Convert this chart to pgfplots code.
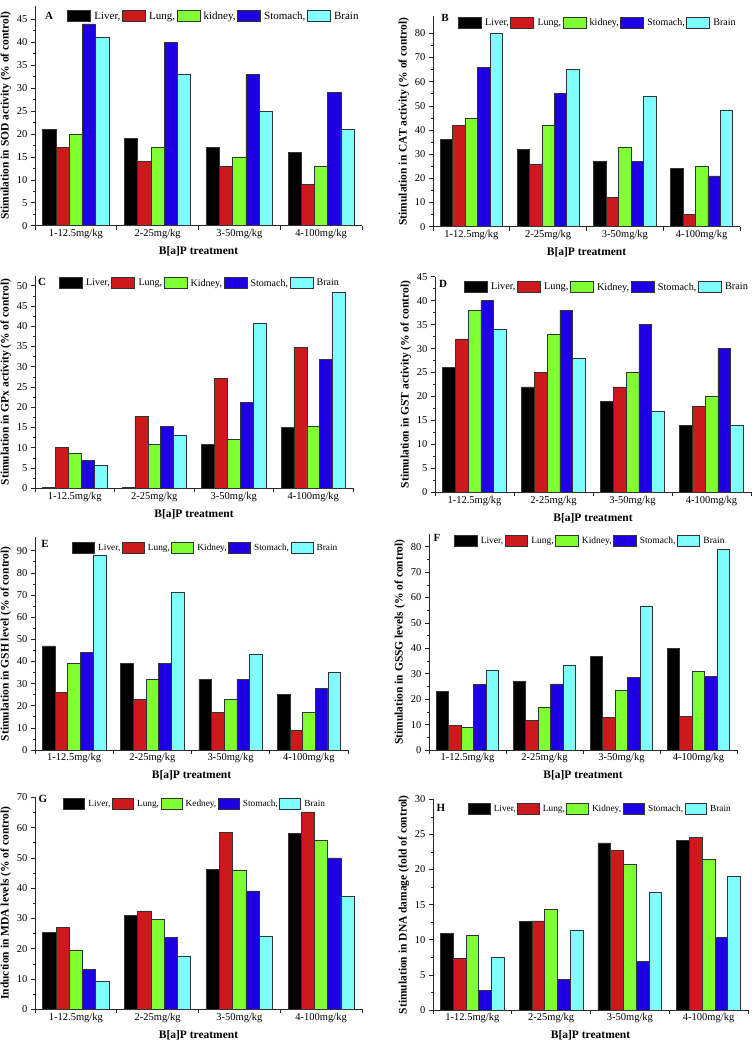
\documentclass[border=0pt]{standalone}
\usepackage{pgfplots}
\pgfplotsset{compat=1.18}
\usepackage{fontspec}
\setmainfont{Liberation Serif}
\definecolor{cLiver}{RGB}{0,0,0}
\definecolor{cLung}{RGB}{205,25,28}
\definecolor{cKid}{RGB}{128,255,50}
\definecolor{cSto}{RGB}{30,0,228}
\definecolor{cBra}{RGB}{128,255,255}
\def\legw{23pt}
\pgfplotsset{
  panel/.style={
    scale only axis, anchor=south west,
    xmin=-0.5, xmax=3.5, ymin=0,
    axis x line*=bottom, axis y line*=left,
    axis line style={black!85, line width=0.7pt},
    tick align=outside, tick style={black!85, line width=0.6pt},
    major tick length=4pt, minor tick length=2pt, minor y tick num=1,
    xtick={-0.5,0.5,1.5,2.5,3.5}, xticklabels={,,,,},
    extra x ticks={0,1,2,3},
    extra x tick labels={1-12.5mg/kg,2-25mg/kg,3-50mg/kg,4-100mg/kg},
    extra x tick style={major tick length=0pt},
    ticklabel style={font=\fontsize{10.5}{12}\selectfont},
    /pgf/number format/assume math mode=true,
    xlabel={\textbf{B[a]P treatment}},
    xlabel style={font=\fontsize{11.5}{12}\selectfont, yshift=3pt},
    ylabel style={font=\bfseries\fontsize{11.5}{12}\selectfont, yshift=-1pt},
    ybar=0pt, bar width=0.162,
    legend columns=-1,
    legend image code/.code={\draw[#1] (0pt,-5pt) rectangle (\legw,6pt);},
    legend style={draw=none, fill=none, anchor=west, inner sep=0pt,
      /tikz/every odd column/.append style={column sep=2pt},
      nodes={inner sep=1.5pt}},
  },
  bL/.style={fill=cLiver, draw=black!80, line width=0.6pt},
  bU/.style={fill=cLung, draw=black!80, line width=0.6pt},
  bK/.style={fill=cKid, draw=black!80, line width=0.6pt},
  bS/.style={fill=cSto, draw=black!80, line width=0.6pt},
  bB/.style={fill=cBra, draw=black!80, line width=0.6pt},
}
\newcommand{\lf}[1]{\fontsize{#1}{12}\selectfont}
\begin{document}
\begin{tikzpicture}[x=1pt,y=1pt]
\useasboundingbox (0pt,0pt) rectangle (755pt,-1040pt);
% ---------------- A ----------------
\def\legw{23pt}
\begin{axis}[panel, at={(35pt,-225.7pt)}, width=327pt, height=220.2pt, ymax=48,
  ytick={0,5,...,45}, ylabel={Stimulation in SOD activity (\% of control)},
  legend style={at={(axis description cs:0.098,0.952)}, font=\lf{11}}]
\addplot[bL] coordinates {(0,21) (1,19) (2,17) (3,16)};
\addplot[bU] coordinates {(0,17) (1,14) (2,13) (3,9)};
\addplot[bK] coordinates {(0,20) (1,17) (2,15) (3,13)};
\addplot[bS] coordinates {(0,44) (1,40) (2,33) (3,29)};
\addplot[bB] coordinates {(0,41) (1,33) (2,25) (3,21)};
\legend{{Liver,},{Lung,},{kidney,},{Stomach,},{Brain}}
\end{axis}
\node[font=\bfseries\lf{11}] at (49pt,-16pt) {A};
% ---------------- B ----------------
\def\legw{23pt}
\begin{axis}[panel, at={(433pt,-226.7pt)}, width=307pt, height=210.3pt, ymax=87,
  ytick={0,10,...,80}, ylabel={Stimulation in CAT activity (\% of control)},
  legend style={at={(axis description cs:0.081,0.970)}, font=\lf{10}}]
\addplot[bL] coordinates {(0,36) (1,32) (2,27) (3,24)};
\addplot[bU] coordinates {(0,42) (1,26) (2,12) (3,5)};
\addplot[bK] coordinates {(0,45) (1,42) (2,33) (3,25)};
\addplot[bS] coordinates {(0,66) (1,55) (2,27) (3,21)};
\addplot[bB] coordinates {(0,80) (1,65) (2,54) (3,48)};
\legend{{Liver,},{Lung,},{kidney,},{Stomach,},{Brain}}
\end{axis}
\node[font=\bfseries\lf{11}] at (445pt,-18pt) {B};
% ---------------- C ----------------
\def\legw{23pt}
\begin{axis}[panel, at={(35pt,-488.3pt)}, width=318pt, height=212.7pt, ymax=52.5,
  ytick={0,5,...,50}, ylabel={Stimulation in GPx activity (\% of control)},
  legend style={at={(axis description cs:0.075,0.965)}, font=\lf{10}}]
\addplot[bL] coordinates {(0,0.25) (1,0.25) (2,10.85) (3,15.1)};
\addplot[bU] coordinates {(0,10.1) (1,17.8) (2,27.1) (3,34.7)};
\addplot[bK] coordinates {(0,8.7) (1,10.8) (2,12) (3,15.2)};
\addplot[bS] coordinates {(0,6.8) (1,15.3) (2,21.2) (3,31.8)};
\addplot[bB] coordinates {(0,5.6) (1,13) (2,40.7) (3,48.5)};
\legend{{Liver,},{Lung,},{Kidney,},{Stomach,},{Brain}}
\end{axis}
\node[font=\bfseries\lf{11}] at (42pt,-282pt) {C};
% ---------------- D ----------------
\def\legw{23pt}
\begin{axis}[panel, at={(435pt,-492.3pt)}, width=316pt, height=215.6pt, ymax=45,
  ytick={0,5,...,45}, ylabel={Stimulation in GST activity (\% of control)},
  legend style={at={(axis description cs:0.091,0.952)}, font=\lf{10.3}}]
\addplot[bL] coordinates {(0,26) (1,22) (2,19) (3,14)};
\addplot[bU] coordinates {(0,32) (1,25) (2,22) (3,18)};
\addplot[bK] coordinates {(0,38) (1,33) (2,25) (3,20)};
\addplot[bS] coordinates {(0,40) (1,38) (2,35) (3,30)};
\addplot[bB] coordinates {(0,34) (1,28) (2,17) (3,14)};
\legend{{Liver,},{Lung,},{Kidney,},{Stomach,},{Brain}}
\end{axis}
\node[font=\bfseries\lf{11}] at (443pt,-284pt) {D};
% ---------------- E ----------------
\def\legw{22pt}
\begin{axis}[panel, at={(35pt,-750pt)}, width=313pt, height=212.6pt, ymax=96,
  ytick={0,10,...,90}, ylabel={Stimulation in GSH level (\% of control)},
  legend style={at={(axis description cs:0.118,0.950)}, font=\lf{9.3}}]
\addplot[bL] coordinates {(0,47) (1,39) (2,32) (3,25)};
\addplot[bU] coordinates {(0,26) (1,23) (2,17) (3,9)};
\addplot[bK] coordinates {(0,39) (1,32) (2,23) (3,17)};
\addplot[bS] coordinates {(0,44) (1,39) (2,32) (3,28)};
\addplot[bB] coordinates {(0,88) (1,71) (2,43) (3,35)};
\legend{{Liver,},{Lung,},{Kidney,},{Stomach,},{Brain}}
\end{axis}
\node[font=\bfseries\lf{11}] at (45pt,-544pt) {E};
% ---------------- F ----------------
\def\legw{22.5pt}
\begin{axis}[panel, at={(429pt,-750pt)}, width=308pt, height=216pt, ymax=85,
  ytick={0,10,...,80}, ylabel={Stimulation in GSSG levels (\% of control)},
  legend style={at={(axis description cs:0.081,0.968)}, font=\lf{9.5}}]
\addplot[bL] coordinates {(0,23) (1,26.9) (2,36.9) (3,40.1)};
\addplot[bU] coordinates {(0,9.8) (1,11.8) (2,12.9) (3,13.1)};
\addplot[bK] coordinates {(0,8.9) (1,17) (2,23.6) (3,30.8)};
\addplot[bS] coordinates {(0,25.7) (1,26) (2,28.6) (3,29)};
\addplot[bB] coordinates {(0,31.5) (1,33.2) (2,56.7) (3,79.1)};
\legend{{Liver,},{Lung,},{Kidney,},{Stomach,},{Brain}}
\end{axis}
\node[font=\bfseries\lf{11}] at (437pt,-538pt) {F};
% ---------------- G ----------------
\def\legw{21pt}
\begin{axis}[panel, at={(35pt,-1009.3pt)}, width=327pt, height=212pt, ymax=70,
  ytick={0,10,...,70}, ylabel={Induction in MDA levels (\% of control)},
  legend style={at={(axis description cs:0.086,0.968)}, font=\lf{9.3}}]
\addplot[bL] coordinates {(0,25.3) (1,31.1) (2,46.2) (3,58.1)};
\addplot[bU] coordinates {(0,27.1) (1,32.5) (2,58.3) (3,65.2)};
\addplot[bK] coordinates {(0,19.6) (1,29.7) (2,45.8) (3,55.9)};
\addplot[bS] coordinates {(0,13.2) (1,23.7) (2,39.1) (3,50)};
\addplot[bB] coordinates {(0,9.1) (1,17.4) (2,24) (3,37.4)};
\legend{{Liver,},{Lung,},{Kedney,},{Stomach,},{Brain}}
\end{axis}
\node[font=\bfseries\lf{11}] at (43pt,-799pt) {G};
% ---------------- H ----------------
\def\legw{21.5pt}
\begin{axis}[panel, at={(433pt,-1010pt)}, width=315pt, height=210.7pt, ymax=30,
  ytick={0,5,...,30}, ylabel={Stimulation in DNA damage (fold of control)},
  legend style={at={(axis description cs:0.111,0.954)}, font=\lf{9.3}}]
\addplot[bL] coordinates {(0,10.9) (1,12.6) (2,23.8) (3,24.2)};
\addplot[bU] coordinates {(0,7.4) (1,12.7) (2,22.7) (3,24.6)};
\addplot[bK] coordinates {(0,10.6) (1,14.3) (2,20.7) (3,21.5)};
\addplot[bS] coordinates {(0,2.75) (1,4.4) (2,6.9) (3,10.35)};
\addplot[bB] coordinates {(0,7.5) (1,11.3) (2,16.8) (3,19)};
\legend{{Liver,},{Lung,},{Kidney,},{Stomach,},{Brain}}
\end{axis}
\node[font=\bfseries\lf{11}] at (441pt,-808pt) {H};
\end{tikzpicture}
\end{document}
